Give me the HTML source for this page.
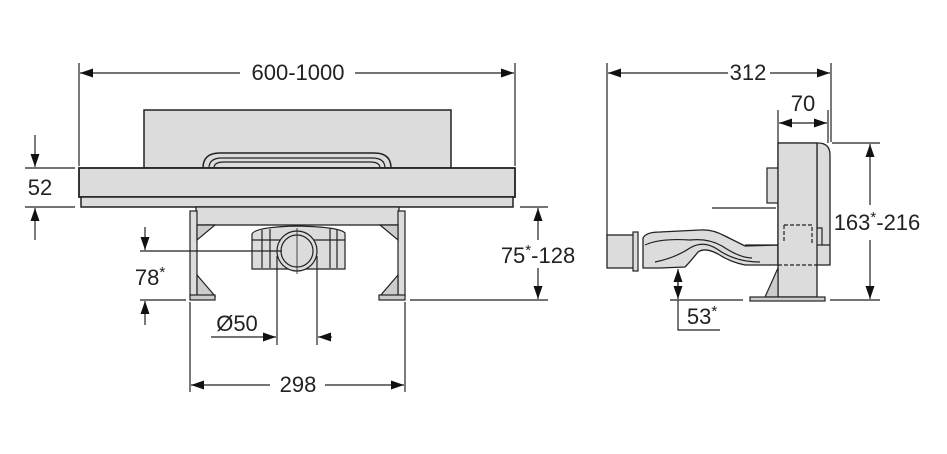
<!DOCTYPE html>
<html><head><style>html,body{margin:0;padding:0;background:#fff;}svg{display:block}</style></head>
<body>
<svg width="947" height="454" viewBox="0 0 947 454" xmlns="http://www.w3.org/2000/svg" font-family="Liberation Sans Narrow, Liberation Sans, sans-serif" font-size="22" fill="none" stroke="#222">
<defs>
<marker id="a" viewBox="0 0 13 10" refX="13" refY="5" markerWidth="13" markerHeight="10" markerUnits="userSpaceOnUse" orient="auto-start-reverse"><path d="M0,0.5 L13,5 L0,9.5z" fill="#111" stroke="none"/></marker>
</defs>
<g stroke-width="1.2">
<!-- LEFT VIEW -->
<line x1="79" y1="63" x2="79" y2="166"/><line x1="515" y1="63" x2="515" y2="166"/>
<line x1="80" y1="73" x2="240" y2="73" marker-start="url(#a)"/>
<line x1="355" y1="73" x2="514" y2="73" marker-end="url(#a)"/>
<rect x="144" y="110" width="307" height="58" fill="#dcdcdc" stroke-width="1.5"/>
<path d="M203,168 Q203,153 220,153 L374,153 Q391,153 391,168" stroke-width="1.5"/>
<path d="M209,168 Q209,158 222,158 L372,158 Q385,158 385,168" stroke-width="1.2"/>
<path d="M214,168 Q214,162 224,162 L370,162 Q380,162 380,168"/>
<rect x="79" y="168" width="436" height="29" fill="#dcdcdc" stroke-width="1.8"/>
<rect x="81" y="197" width="432" height="10" fill="#dcdcdc" stroke-width="1.5"/>
<!-- frame -->
<rect x="196" y="207" width="203" height="18" fill="#dcdcdc" stroke-width="1.3"/>
<rect x="190" y="211" width="7" height="85" fill="#dcdcdc"/>
<rect x="398" y="211" width="7" height="85" fill="#dcdcdc"/>
<path d="M197,225 L215,225 L197,240z" fill="#ccc"/>
<path d="M398,225 L380,225 L398,240z" fill="#ccc"/>
<path d="M197,275 L215,296 L197,296z" fill="#ccc"/>
<path d="M398,275 L380,296 L398,296z" fill="#ccc"/>
<rect x="190" y="295" width="25" height="5" fill="#ccc"/>
<rect x="379" y="295" width="26" height="5" fill="#ccc"/>
<!-- pipe body -->
<path d="M252,234 Q255,227 297,226 Q340,227 345,233 L345,269 L252,269z" fill="#dcdcdc"/>
<path d="M262,230 L262,268 M270,229 L270,268 M330,229 L330,268 M337,230 L337,268 M252,240 L345,240"/>
<circle cx="297" cy="251" r="20" fill="#dcdcdc"/>
<circle cx="297" cy="251" r="16"/>
<line x1="297" y1="228" x2="297" y2="274" stroke-width="0.8"/>
<!-- 52 -->
<line x1="25" y1="168" x2="75" y2="168"/><line x1="25" y1="207" x2="75" y2="207"/>
<line x1="35" y1="135" x2="35" y2="167" marker-end="url(#a)"/>
<line x1="35" y1="240" x2="35" y2="208" marker-end="url(#a)"/>
<!-- 78* -->
<line x1="140" y1="251" x2="282" y2="251"/><line x1="140" y1="300" x2="186" y2="300"/>
<line x1="145" y1="227" x2="145" y2="250" marker-end="url(#a)"/>
<line x1="145" y1="325" x2="145" y2="301" marker-end="url(#a)"/>
<!-- Ø50 -->
<line x1="277" y1="256" x2="277" y2="345"/><line x1="317" y1="256" x2="317" y2="345"/>
<line x1="211" y1="337" x2="276" y2="337" marker-end="url(#a)"/>
<line x1="332" y1="337" x2="318" y2="337" marker-end="url(#a)"/>
<!-- 298 -->
<line x1="190" y1="302" x2="190" y2="392"/><line x1="405" y1="302" x2="405" y2="392"/>
<line x1="191" y1="385" x2="270" y2="385" marker-start="url(#a)"/>
<line x1="325" y1="385" x2="404" y2="385" marker-end="url(#a)"/>
<!-- 75*-128 -->
<line x1="520" y1="207" x2="548" y2="207"/><line x1="410" y1="300" x2="548" y2="300"/>
<line x1="538" y1="240" x2="538" y2="208" marker-end="url(#a)"/>
<line x1="538" y1="268" x2="538" y2="299" marker-end="url(#a)"/>

<!-- RIGHT VIEW -->
<line x1="607" y1="63" x2="607" y2="240"/><line x1="831" y1="63" x2="831" y2="142"/>
<line x1="608" y1="73" x2="728" y2="73" marker-start="url(#a)"/>
<line x1="770" y1="73" x2="830" y2="73" marker-end="url(#a)"/>
<line x1="778" y1="110" x2="778" y2="143"/><line x1="828" y1="110" x2="828" y2="143"/>
<line x1="779" y1="123" x2="827" y2="123" marker-start="url(#a)" marker-end="url(#a)"/>
<!-- outlet pipe -->
<path d="M643,238 Q646,232 660,232 L700,230 Q712,229 725,236 L745,246 L778,245 L778,265 L745,265 Q730,262 718,254 Q705,247 698,252 Q690,262 685,267 L660,268 L643,268z" fill="#dcdcdc" stroke-width="1.3"/>
<path d="M645,245 Q660,238 690,240 Q708,238 722,246 Q740,258 752,258 M655,262 Q675,258 690,248 Q703,240 717,249 Q735,262 760,262"/>
<rect x="607" y="235" width="27" height="33" fill="#dcdcdc" stroke-width="1.3"/>
<rect x="633" y="232" width="5" height="39" fill="#dcdcdc"/>
<!-- housing -->
<path d="M778,143 L818,143 Q830,143 830,155 L830,265 L778,265z" fill="#dcdcdc" stroke-width="1.3"/>
<line x1="817" y1="143" x2="817" y2="228"/>
<path d="M817,228 L822,228 L822,245 M830,245 L745,245"/>
<rect x="767" y="168" width="11" height="35" fill="#dcdcdc"/>
<line x1="712" y1="208" x2="776" y2="208"/>
<rect x="778" y="143" width="39" height="154" fill="#dcdcdc" stroke-width="1.3"/>
<path d="M784,225 L812,225 L812,243 M784,225 L784,243 M778,265 L817,265" stroke-dasharray="4,2"/>
<path d="M778,268 L765,297 L778,297z" fill="#ccc"/>
<rect x="750" y="297" width="75" height="4" fill="#ccc"/>
<!-- 163*-216 -->
<line x1="832" y1="143" x2="880" y2="143"/><line x1="830" y1="300" x2="880" y2="300"/>
<line x1="870" y1="205" x2="870" y2="144" marker-end="url(#a)"/>
<line x1="870" y1="240" x2="870" y2="299" marker-end="url(#a)"/>
<!-- 53* -->
<line x1="670" y1="300" x2="743" y2="300"/>
<line x1="678" y1="290" x2="678" y2="269" marker-end="url(#a)"/>
<line x1="678" y1="280" x2="678" y2="299" marker-end="url(#a)"/>
<path d="M678,300 L678,330 L720,330"/>
</g>
<g fill="#222" stroke="none">
<text x="298" y="80" text-anchor="middle">600-1000</text>
<text x="40" y="195" text-anchor="middle">52</text>
<text x="150" y="285" text-anchor="middle">78<tspan font-size="15" dy="-8">*</tspan></text>
<text x="237" y="331" text-anchor="middle">Ø50</text>
<text x="298" y="392" text-anchor="middle">298</text>
<text x="538" y="263" text-anchor="middle">75<tspan font-size="15" dy="-8">*</tspan><tspan dy="8">-128</tspan></text>
<text x="748" y="80" text-anchor="middle">312</text>
<text x="803" y="111" text-anchor="middle">70</text>
<text x="877" y="230" text-anchor="middle">163<tspan font-size="15" dy="-8">*</tspan><tspan dy="8">-216</tspan></text>
<text x="702" y="324" text-anchor="middle">53<tspan font-size="15" dy="-8">*</tspan></text>
</g>
</svg>
</body></html>
